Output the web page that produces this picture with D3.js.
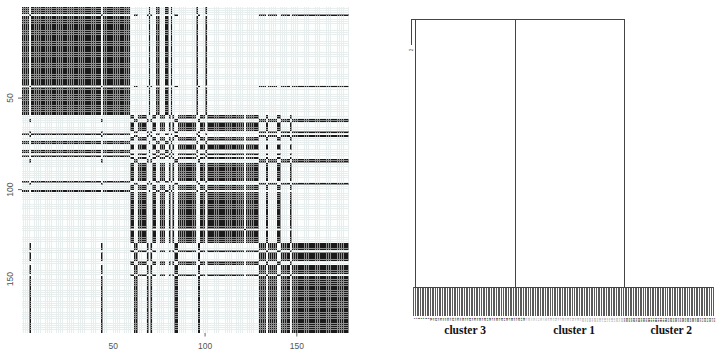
<!DOCTYPE html>
<html><head><meta charset="utf-8">
<script src="https://cdn.jsdelivr.net/npm/d3@7/dist/d3.min.js"></script>
<style>html,body{margin:0;background:#fff}svg{display:block}</style></head>
<body><svg id="c" width="723" height="356"></svg>
<script>
// run-length cluster membership of the 178 items, in matrix order: [cluster, count]
const membershipRuns = [[1,4],[3,1],[1,38],[3,1],[1,15],[2,2],[3,2],[2,5],[3,1],[1,1],[3,1],[2,2],[1,2],[2,3],[1,2],[2,1],[1,1],[2,1],[3,2],[2,10],[1,1],[3,1],[2,3],[1,1],[2,20],[4,1],[2,7],[3,4],[2,1],[3,5],[2,2],[3,5],[2,1],[3,31]];
const xTicks = [50,100,150];
const yTicks = [50,100,150];
const hiddenXTick = [50];
const hiddenYTick = [150];
const stemRanks = [-1.4,1,60,124.5];
const stemBase = [0.912,0.095,0.095,0.095];
const stemTop = 1;
const outlierLabel = "2";
const clusterNames = ["cluster 3","cluster 1","cluster 2"];
const clusterCentres = [30.4,94.9,152.3];
const tinyLabelGroups = [[0,66,"#000"],[66,124,"#999"],[124,178,"#000"]];

const labels = membershipRuns.flatMap(([c,n]) => Array(n).fill(c));
const n = labels.length;
const items = labels.map((_,i)=>i);
const svg = d3.select("#c");

const x = d3.scaleBand().domain(items).range([22,348.6]).paddingInner(0.33).paddingOuter(0.1);
const y = d3.scaleBand().domain(items).range([7,332.8]).paddingInner(0.33).paddingOuter(0.1);
const axisX = d3.scaleLinear().domain([1,n]).range([22.9,347.7]);
const axisY = d3.scaleLinear().domain([1,n]).range([7.9,331.9]);

const heat = svg.append("g").attr("shape-rendering","crispEdges");
heat.append("rect").attr("x",22).attr("y",7).attr("width",326.6).attr("height",325.8).attr("fill","#e8eeee");
const cells = items.flatMap(i => items.map(j => ({i,j,on:labels[i]===labels[j]})));
heat.append("g").selectAll("rect").data(cells.filter(d=>d.on)).join("rect")
  .attr("x",d=>x(d.i)-x.step()*0.33/2).attr("y",d=>y(d.j)-y.step()*0.33/2)
  .attr("width",x.step()).attr("height",y.step()).attr("fill","#909090");
heat.append("g").selectAll("rect").data(cells).join("rect")
  .attr("x",d=>x(d.i)).attr("y",d=>y(d.j))
  .attr("width",x.bandwidth()).attr("height",y.bandwidth())
  .attr("fill",d=>d.on?"#1a1a1a":"#fdfefe");

const ax = svg.append("g").attr("transform","translate(0,333)")
  .call(d3.axisBottom(axisX).tickValues(xTicks).tickSize(3.5).tickPadding(6));
ax.select(".domain").remove();
ax.selectAll(".tick").filter(d=>hiddenXTick.includes(d)).select("line").remove();
const ay = svg.append("g").attr("transform","translate(22,0)")
  .call(d3.axisLeft(axisY).tickValues(yTicks).tickSize(4).tickPadding(5));
ay.select(".domain").remove();
ay.selectAll(".tick").filter(d=>hiddenYTick.includes(d)).select("line").remove();
ay.selectAll("text").attr("transform","rotate(-90)").attr("text-anchor","middle").attr("dy",0).attr("y",-9)
  .attr("x",d=>hiddenYTick.includes(d)?2:0);
for (const a of [ax,ay]) {
  a.selectAll("line").attr("stroke","#666");
  a.selectAll("text").attr("fill","#555").style("font","8.5px 'Liberation Sans'");
}

// dendrogram
const dx = d3.scaleLinear().domain([0,n-1]).range([413.7,713]);
const dy = d3.scaleLinear().domain([0,1]).range([315.5,19.3]);
const dark = "#444";
const tree = svg.append("g").attr("stroke",dark).attr("fill","none").attr("stroke-width",1).attr("shape-rendering","crispEdges");
tree.selectAll(".leaf").data(items).join("line").attr("class","leaf").attr("stroke","#5a5a5a")
  .attr("x1",d=>dx(d)).attr("x2",d=>dx(d)).attr("y1",dy(stemBase[1])).attr("y2",dy(0));
tree.append("line").attr("x1",dx(0)).attr("x2",dx(n-1)).attr("y1",dy(stemBase[1])).attr("y2",dy(stemBase[1]));
tree.selectAll(".stem").data(stemRanks).join("line").attr("class","stem")
  .attr("x1",d=>dx(d)).attr("x2",d=>dx(d)).attr("y1",dy(stemTop)).attr("y2",(d,i)=>dy(stemBase[i]));
tree.append("line").attr("x1",dx(d3.min(stemRanks))).attr("x2",dx(d3.max(stemRanks))).attr("y1",dy(stemTop)).attr("y2",dy(stemTop));

svg.append("text").text(outlierLabel)
  .attr("transform",`translate(${dx(stemRanks[0])+1.5},50) rotate(-90)`)
  .attr("text-anchor","middle").attr("fill","#555").style("font","4.5px 'Liberation Sans'");

const tiny = svg.append("g");
tiny.selectAll("text").data(items).join("text")
  .text(d=>d+1)
  .attr("transform",d=>`translate(${dx(d)+0.7},317.8) rotate(90)`)
  .attr("fill",d=>tinyLabelGroups.find(g=>d>=g[0]&&d<g[1])[2])
  .style("font","bold 2.5px 'Liberation Sans'");

svg.append("g").selectAll("text").data(clusterNames).join("text")
  .text(d=>d).attr("x",(d,i)=>dx(clusterCentres[i])).attr("y",333.5)
  .attr("text-anchor","middle").attr("fill","#111")
  .style("font","bold 11.5px 'Liberation Serif'");
</script></body></html>
